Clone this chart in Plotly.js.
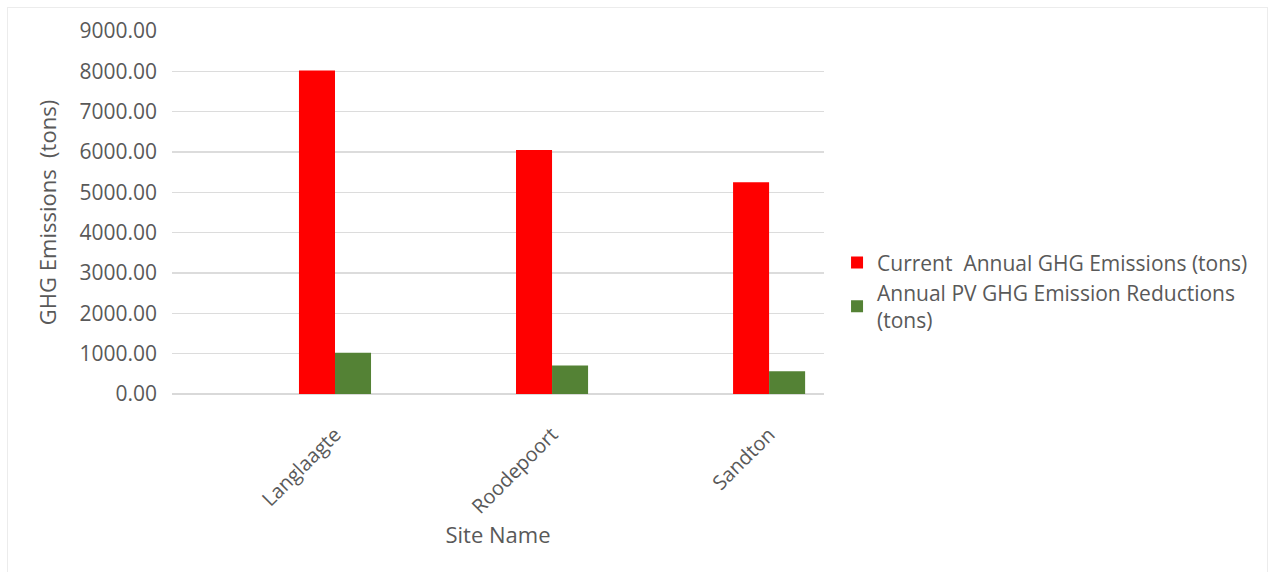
<!DOCTYPE html>
<html>
<head>
<meta charset="utf-8">
<script src="https://cdn.plot.ly/plotly-3.0.1.min.js"></script>
<style>
  html, body { margin: 0; padding: 0; background: #ffffff; }
  #wrap { position: relative; width: 1269px; height: 572px; }
  #chart { width: 1269px; height: 572px; }
  #frame { position: absolute; left: 7px; top: 7px; width: 1261px; height: 570px;
           border-left: 1px solid #ececec; border-top: 1px solid #ececec; border-right: 1px solid #ececec;
           box-sizing: border-box; pointer-events: none; }
</style>
</head>
<body>
<div id="wrap">
  <div id="chart"></div>
  <div id="frame"></div>
</div>
<script>
const sites = ["Langlaagte", "Roodepoort", "Sandton"];
const currentEmissions = [8020, 6050, 5250];
const pvReductions = [1020, 705, 565];
const seriesNames = ["Current  Annual GHG Emissions (tons)", "Annual PV GHG Emission Reductions<br>(tons)"];
const yTitle = "GHG Emissions  (tons)";
const xTitle = "Site Name";

const font = { family: "Open Sans, sans-serif", size: 21, color: "#595959" };
const xTickFont = { family: "Open Sans, sans-serif", size: 20, color: "#595959" };
const titleFont = { family: "Open Sans, sans-serif", size: 22, color: "#595959" };

const traces = [
  { type: "bar", x: sites, y: currentEmissions, name: seriesNames[0],
    marker: { color: "#ff0000" }, hoverinfo: "x+y" },
  { type: "bar", x: sites, y: pvReductions, name: seriesNames[1],
    marker: { color: "#548235" }, hoverinfo: "x+y" }
];

const layout = {
  width: 1269, height: 572,
  paper_bgcolor: "#ffffff", plot_bgcolor: "#ffffff",
  margin: { l: 172, r: 445, t: 31, b: 178, pad: 0 },
  font: font,
  barmode: "group",
  bargap: 0.668,
  bargroupgap: 0,
  showlegend: true,
  legend: {
    x: 1.02, xanchor: "left", y: 0.283, yanchor: "middle",
    font: font, bgcolor: "rgba(0,0,0,0)", tracegroupgap: 0,
    traceorder: "normal"
  },
  xaxis: {
    type: "category",
    range: [-0.751, 2.253],
    tickangle: -45,
    showgrid: false, zeroline: false, showline: false,
    ticks: "", tickfont: xTickFont, ticklabelstandoff: 24,
    title: { text: xTitle, font: titleFont, standoff: 7 },
    automargin: false
  },
  yaxis: {
    range: [0, 9000], dtick: 1000, tick0: 0,
    tickformat: ".2f",
    showgrid: true, gridcolor: "#dcdcdc", gridwidth: 1.5,
    zeroline: true, zerolinecolor: "#d9d9d9", zerolinewidth: 1.5,
    showline: false, ticks: "", ticklabelstandoff: 14,
    tickfont: font,
    title: { text: yTitle, font: titleFont, standoff: 16 },
    automargin: false
  }
};

Plotly.newPlot("chart", traces, layout, { displayModeBar: false, staticPlot: true });
</script>
</body>
</html>
